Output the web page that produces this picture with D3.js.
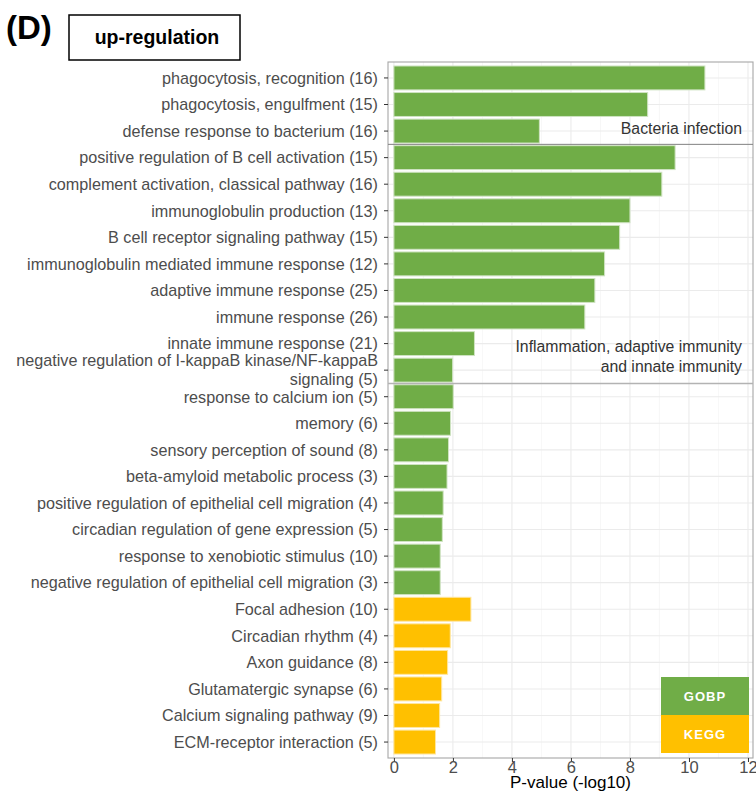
<!DOCTYPE html>
<html>
<head>
<meta charset="utf-8">
<script src="https://cdn.jsdelivr.net/npm/d3@7"></script>
<style>
  body { margin: 0; background: #fff; }
  text { font-family: "Liberation Sans", Arial, Helvetica, sans-serif; }
</style>
</head>
<body>
<div id="chart"></div>
<script>
// terms, top to bottom
let terms = [
  "phagocytosis, recognition (16)",
  "phagocytosis, engulfment (15)",
  "defense response to bacterium (16)",
  "positive regulation of B cell activation (15)",
  "complement activation, classical pathway (16)",
  "immunoglobulin production (13)",
  "B cell receptor signaling pathway (15)",
  "immunoglobulin mediated immune response (12)",
  "adaptive immune response (25)",
  "immune response (26)",
  "innate immune response (21)",
  "negative regulation of I-kappaB kinase/NF-kappaB|signaling (5)",
  "response to calcium ion (5)",
  "memory (6)",
  "sensory perception of sound (8)",
  "beta-amyloid metabolic process (3)",
  "positive regulation of epithelial cell migration (4)",
  "circadian regulation of gene expression (5)",
  "response to xenobiotic stimulus (10)",
  "negative regulation of epithelial cell migration (3)",
  "Focal adhesion (10)",
  "Circadian rhythm (4)",
  "Axon guidance (8)",
  "Glutamatergic synapse (6)",
  "Calcium signaling pathway (9)",
  "ECM-receptor interaction (5)"
];
let pvals = [10.54, 8.6, 4.93, 9.53, 9.08, 8.0, 7.65, 7.14, 6.81, 6.47, 2.73, 1.99,
  2.01, 1.92, 1.85, 1.80, 1.67, 1.64, 1.57, 1.57,
  2.61, 1.91, 1.82, 1.62, 1.55, 1.41];
let sources = ["GOBP","GOBP","GOBP","GOBP","GOBP","GOBP","GOBP","GOBP","GOBP","GOBP","GOBP","GOBP",
  "GOBP","GOBP","GOBP","GOBP","GOBP","GOBP","GOBP","GOBP",
  "KEGG","KEGG","KEGG","KEGG","KEGG","KEGG"];
let xTicks = [0, 2, 4, 6, 8, 10, 12];
let xMinor = [1, 3, 5, 7, 9, 11];
let groupBreaks = [3, 12]; // separator after these many rows
let legendKeys = ["GOBP", "KEGG"];
let colors = {GOBP: "#70AD47", KEGG: "#FFC000"};
let strokes = {GOBP: "#cfe3c2", KEGG: "#ffe6a0"};

let width = 756, height = 792;
let pLeft = 388, pRight = 753, pTop = 62, pBottom = 758;

let svg = d3.select("#chart").append("svg")
  .attr("width", width).attr("height", height);

let x = d3.scaleLinear().domain([-0.2, 12.17]).range([pLeft, pRight]);
let y = d3.scalePoint().domain(d3.range(terms.length)).range([pTop, pBottom]).padding(0.6);
let step = y.step();

// grid
let grid = svg.append("g");
grid.selectAll(".minor").data(xMinor).enter().append("line")
  .attr("x1", d => x(d)).attr("x2", d => x(d))
  .attr("y1", pTop).attr("y2", pBottom)
  .attr("stroke", "#f2f2f2").attr("stroke-width", 0.6);
grid.selectAll(".major").data(xTicks).enter().append("line")
  .attr("x1", d => x(d)).attr("x2", d => x(d))
  .attr("y1", pTop).attr("y2", pBottom)
  .attr("stroke", "#ebebeb").attr("stroke-width", 1.1);
grid.selectAll(".hmajor").data(d3.range(terms.length)).enter().append("line")
  .attr("x1", pLeft).attr("x2", pRight)
  .attr("y1", d => y(d)).attr("y2", d => y(d))
  .attr("stroke", "#ebebeb").attr("stroke-width", 1.1);

// bars
svg.append("g").selectAll("rect")
  .data(pvals)
  .enter()
  .append("rect")
  .attr("x", x(0))
  .attr("y", (d, i) => y(i) - step * 0.45)
  .attr("width", d => x(d) - x(0))
  .attr("height", step * 0.9)
  .attr("fill", (d, i) => colors[sources[i]])
  .attr("stroke", (d, i) => strokes[sources[i]])
  .attr("stroke-width", 1);

// panel border
svg.append("rect")
  .attr("x", pLeft).attr("y", pTop)
  .attr("width", pRight - pLeft).attr("height", pBottom - pTop)
  .attr("fill", "none").attr("stroke", "#a6a6a6").attr("stroke-width", 1.1);

// group separators
groupBreaks.forEach((b, i) => {
  let yy = (y(b - 1) + y(b)) / 2;
  svg.append("line")
    .attr("x1", pLeft).attr("x2", pRight)
    .attr("y1", yy).attr("y2", yy)
    .attr("stroke", i == 0 ? "#808080" : "#b3b3b3")
    .attr("stroke-width", i == 0 ? 1 : 1.6);
});

// y axis labels
let yAxisG = svg.append("g");
terms.forEach((t, i) => {
  yAxisG.append("line")
    .attr("x1", pLeft - 4).attr("x2", pLeft)
    .attr("y1", y(i)).attr("y2", y(i))
    .attr("stroke", "#333").attr("stroke-width", 1);
  let lines = t.split("|");
  let txt = yAxisG.append("text")
    .attr("x", pLeft - 10)
    .attr("y", y(i))
    .attr("text-anchor", "end")
    .attr("fill", "#4d4d4d")
    .attr("font-size", 16.2);
  lines.forEach((l, j) => {
    txt.append("tspan")
      .attr("x", pLeft - 10)
      .attr("y", y(i) + 5.8 + (j - (lines.length - 1) / 2) * 19)
      .text(l);
  });
});

// x axis
let xAxis = d3.axisBottom(x).tickValues(xTicks).tickSize(4).tickPadding(2);
let xg = svg.append("g")
  .attr("transform", "translate(0," + pBottom + ")")
  .call(xAxis);
xg.select(".domain").remove();
xg.selectAll("line").attr("stroke", "#333");
xg.selectAll("text")
  .attr("font-size", 16.5)
  .attr("fill", "#4d4d4d")
  .attr("dy", null)
  .attr("y", 15)
  .attr("font-family", "Liberation Sans, Arial, sans-serif");

svg.append("text")
  .attr("x", (pLeft + pRight) / 2)
  .attr("y", 788)
  .attr("text-anchor", "middle")
  .attr("font-size", 17)
  .attr("fill", "#000")
  .text("P-value (-log10)");

// annotations
svg.append("text")
  .attr("x", 742).attr("y", 134)
  .attr("text-anchor", "end")
  .attr("font-size", 15.8)
  .attr("fill", "#333")
  .text("Bacteria infection");
svg.append("text")
  .attr("x", 742).attr("y", 352)
  .attr("text-anchor", "end")
  .attr("font-size", 15.8)
  .attr("fill", "#333")
  .text("Inflammation, adaptive immunity");
svg.append("text")
  .attr("x", 742).attr("y", 372)
  .attr("text-anchor", "end")
  .attr("font-size", 15.8)
  .attr("fill", "#333")
  .text("and innate immunity");

// legend
let legY = 677, legH = 38;
legendKeys.forEach((k, i) => {
  svg.append("rect")
    .attr("x", 661).attr("y", legY + i * legH)
    .attr("width", 88).attr("height", legH)
    .attr("fill", colors[k]);
  svg.append("text")
    .attr("x", 705).attr("y", legY + i * legH + legH / 2 + 5)
    .attr("text-anchor", "middle")
    .attr("font-size", 13)
    .attr("font-weight", "bold")
    .attr("letter-spacing", 1)
    .attr("fill", "#fff")
    .text(k);
});

// title
svg.append("text")
  .attr("x", 6).attr("y", 39)
  .attr("font-size", 33)
  .attr("font-weight", "bold")
  .text("(D)");
svg.append("rect")
  .attr("x", 69).attr("y", 15)
  .attr("width", 171).attr("height", 45)
  .attr("fill", "none").attr("stroke", "#000").attr("stroke-width", 1.5);
svg.append("text")
  .attr("x", 157).attr("y", 44)
  .attr("text-anchor", "middle")
  .attr("font-size", 19.5)
  .attr("font-weight", "bold")
  .text("up-regulation");
</script>
</body>
</html>
